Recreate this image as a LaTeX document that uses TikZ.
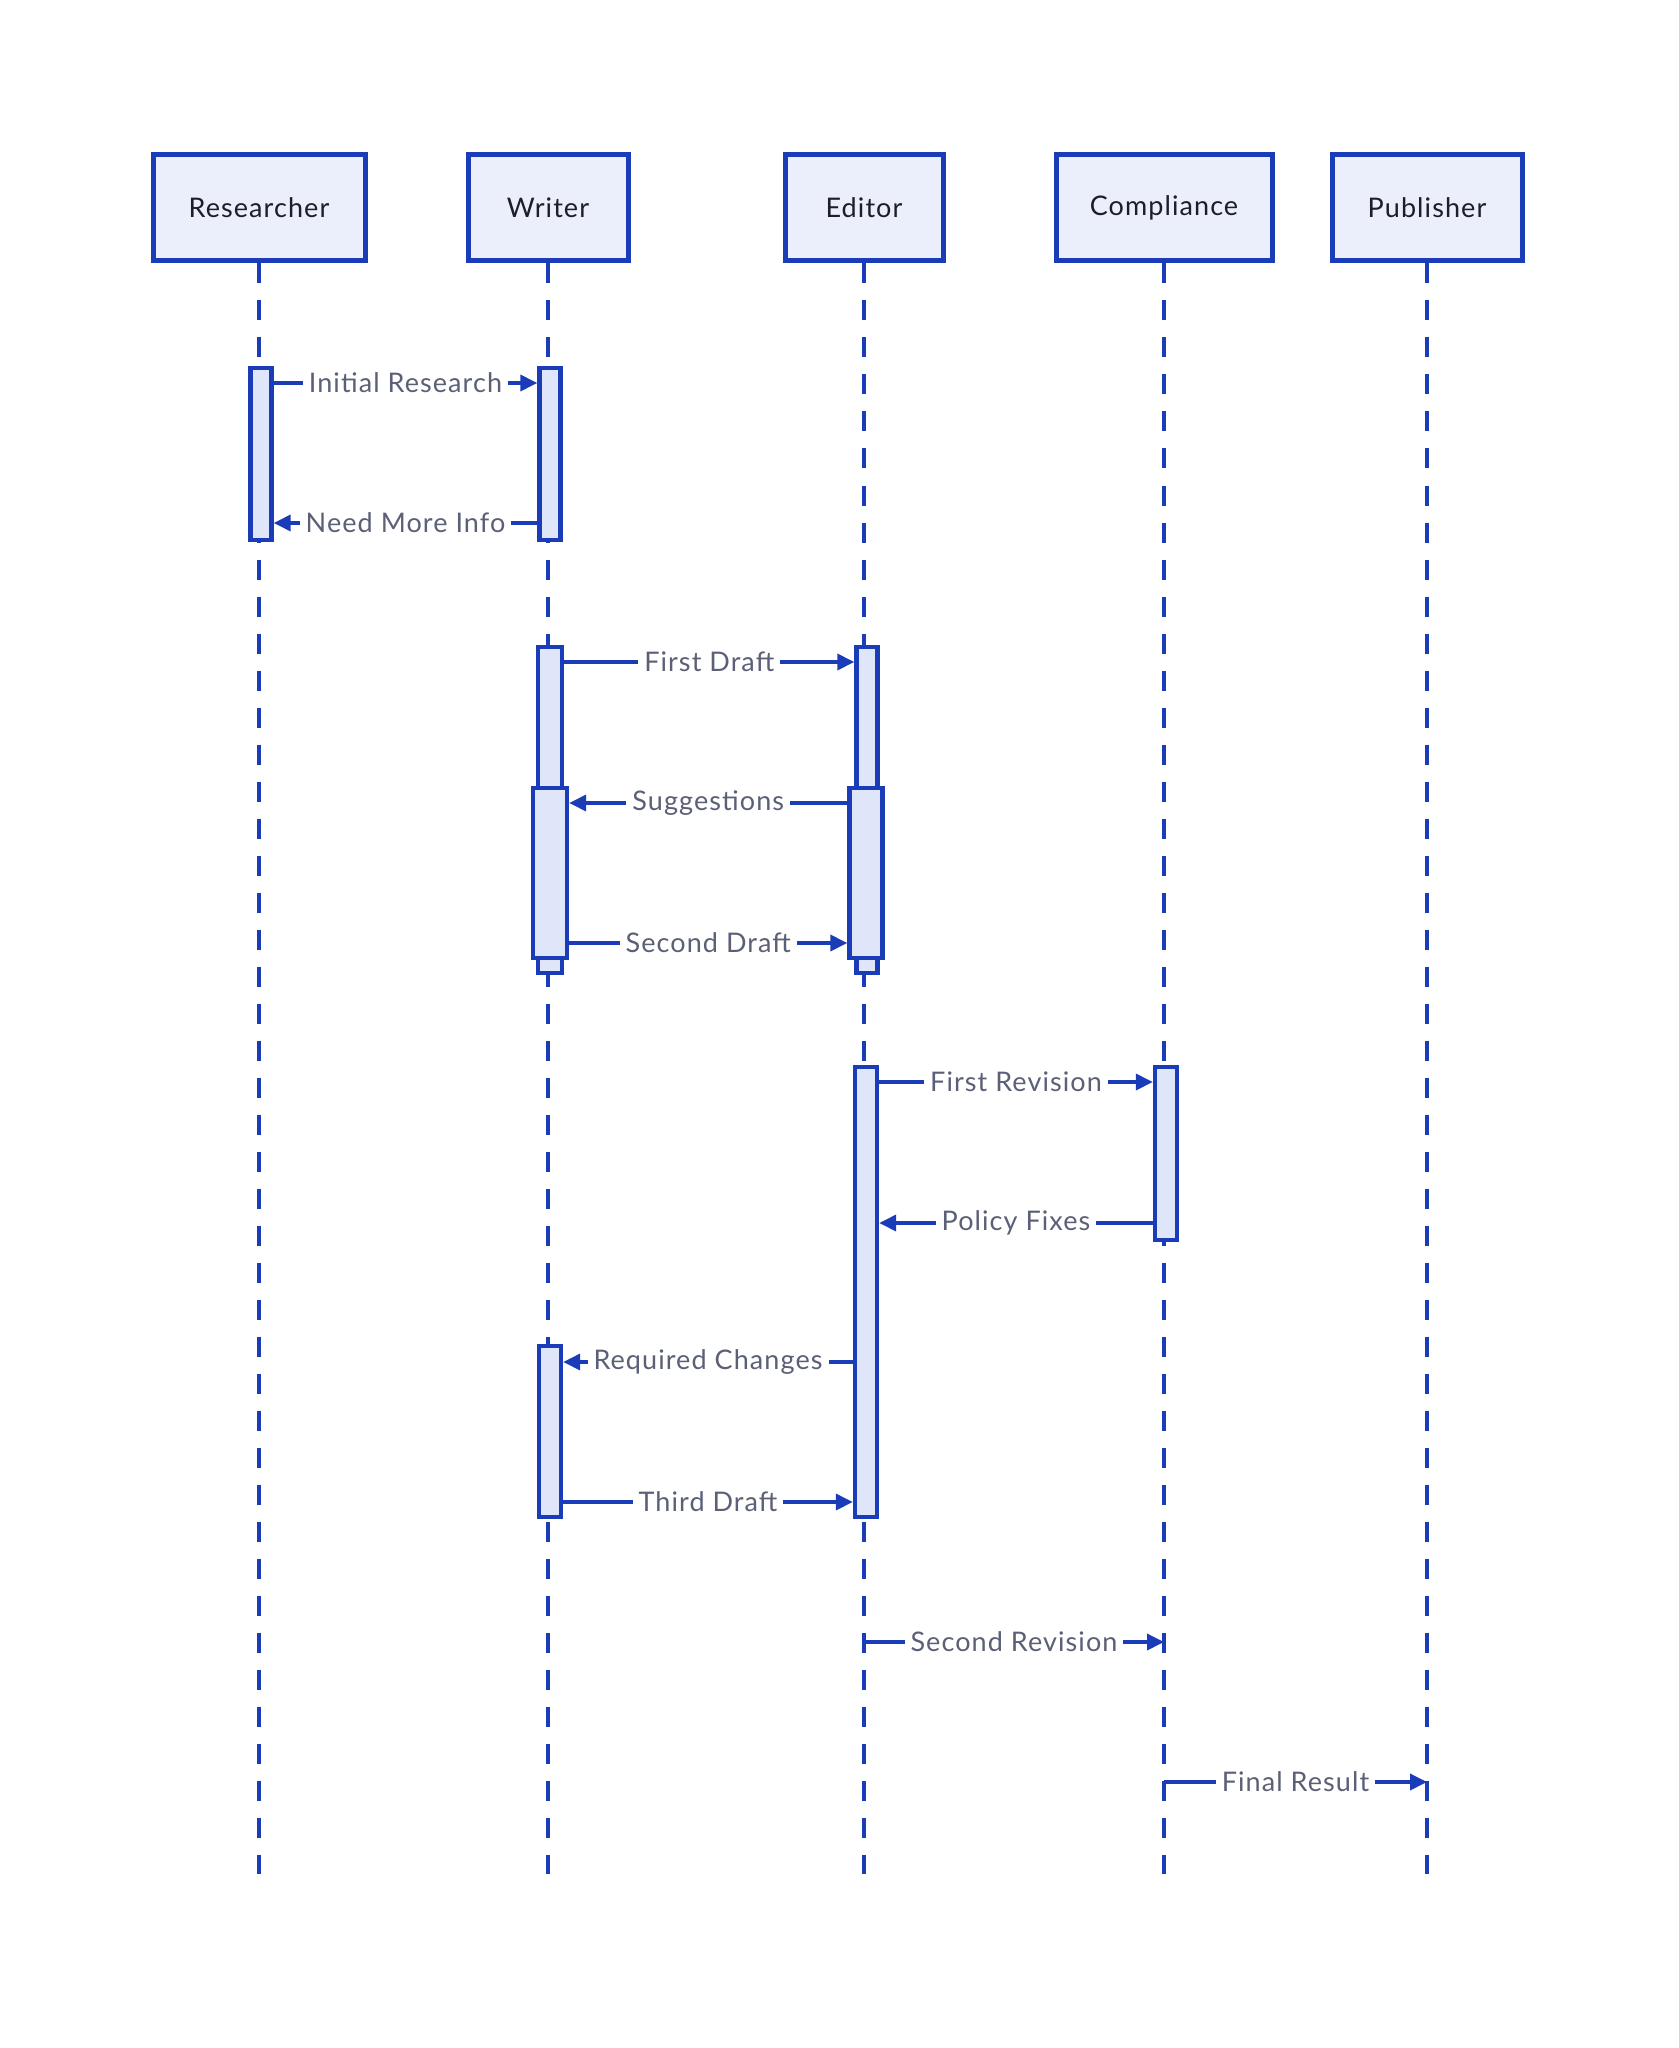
\documentclass[tikz,border=0pt]{standalone}
\usepackage{fontspec}
\setmainfont{Lato}[LetterSpace=4]
\usetikzlibrary{arrows.meta}
\definecolor{lineblue}{HTML}{1A3CB8}
\definecolor{boxfill}{HTML}{EBEEFB}
\definecolor{barfill}{HTML}{DFE6FA}
\definecolor{labelgrey}{HTML}{5B6077}
\definecolor{headtext}{HTML}{1E1E2A}
\tikzset{
  actor/.style={draw=lineblue, line width=2.5pt, fill=boxfill, minimum height=53pt,
    text=headtext, font=\fontsize{13.5}{16}\selectfont, inner sep=0pt},
  lifeline/.style={draw=lineblue, line width=2pt, dash pattern=on 10pt off 8.5pt},
  actbar/.style={draw=lineblue, line width=2.2pt, fill=barfill, inner sep=0pt},
  msg/.style={draw=lineblue, line width=1.8pt, -{Triangle[length=8.5pt,width=8pt]}},
  msglabel/.style={fill=white, text=labelgrey, font=\fontsize{13.5}{16}\selectfont, inner sep=3pt}
}
\begin{document}
\begin{tikzpicture}[x=0.5pt,y=-0.5pt]
\useasboundingbox[fill=white] (0,0) rectangle (1678,2048);

% actors
\node[actor, minimum width=106pt] (res) at (259,208) {Researcher};
\node[actor, minimum width=80pt]  (wri) at (548,208) {Writer};
\node[actor, minimum width=79pt]  (edi) at (864,208) {Editor};
\node[actor, minimum width=108pt] (com) at (1164,208) {Compliance};
\node[actor, minimum width=95pt]  (pub) at (1427,208) {Publisher};

% lifeline ends
\coordinate (resend) at (259,1874);
\coordinate (wriend) at (548,1874);
\coordinate (ediend) at (864,1874);
\coordinate (comend) at (1164,1874);
\coordinate (pubend) at (1427,1874);

\draw[lifeline] (res.south) -- (resend);
\draw[lifeline] (wri.south) -- (wriend);
\draw[lifeline] (edi.south) -- (ediend);
\draw[lifeline] (com.south) -- (comend);
\draw[lifeline] (pub.south) -- (pubend);

% activation bars
\node[actbar, minimum width=10.5pt, minimum height=86pt] (r1) at (261,454) {};
\node[actbar, minimum width=10.5pt, minimum height=86pt] (w1) at (550,454) {};
\node[actbar, minimum width=12pt, minimum height=163pt] (w2) at (550,810) {};
\node[actbar, minimum width=17pt, minimum height=85pt] (w3) at (550,873) {};
\node[actbar, minimum width=10.5pt, minimum height=163pt] (e1) at (867,810) {};
\node[actbar, minimum width=16.5pt, minimum height=85pt] (e2) at (866,873) {};
\node[actbar, minimum width=11pt, minimum height=225pt] (e3) at (866,1292) {};
\node[actbar, minimum width=11pt, minimum height=86.5pt] (c1) at (1166,1153.5) {};
\node[actbar, minimum width=11pt, minimum height=85.5pt] (w4) at (550,1431.5) {};

% message heights
\coordinate (m1) at (0,383);
\coordinate (m2) at (0,523);
\coordinate (m3) at (0,662);
\coordinate (m4) at (0,803);
\coordinate (m5) at (0,943);
\coordinate (m6) at (0,1082);
\coordinate (m7) at (0,1223);
\coordinate (m8) at (0,1362);
\coordinate (m9) at (0,1502);
\coordinate (m10) at (0,1642);
\coordinate (m11) at (0,1782);

% messages
\draw[msg] (r1.east |- m1) -- node[msglabel] {Initial Research} (w1.west |- m1);
\draw[msg] (w1.west |- m2) -- node[msglabel] {Need More Info} (r1.east |- m2);
\draw[msg] (w2.east |- m3) -- node[msglabel] {First Draft} (e1.west |- m3);
\draw[msg] (e2.west |- m4) -- node[msglabel] {Suggestions} (w3.east |- m4);
\draw[msg] (w3.east |- m5) -- node[msglabel] {Second Draft} (e2.west |- m5);
\draw[msg] (e3.east |- m6) -- node[msglabel] {First Revision} (c1.west |- m6);
\draw[msg] (c1.west |- m7) -- node[msglabel] {Policy Fixes} (e3.east |- m7);
\draw[msg] (e3.west |- m8) -- node[msglabel] {Required Changes} (w4.east |- m8);
\draw[msg] (w4.east |- m9) -- node[msglabel] {Third Draft} (e3.west |- m9);
\draw[msg] (edi.south |- m10) -- node[msglabel] {Second Revision} (com.south |- m10);
\draw[msg] (com.south |- m11) -- node[msglabel] {Final Result} (pub.south |- m11);
\end{tikzpicture}
\end{document}
